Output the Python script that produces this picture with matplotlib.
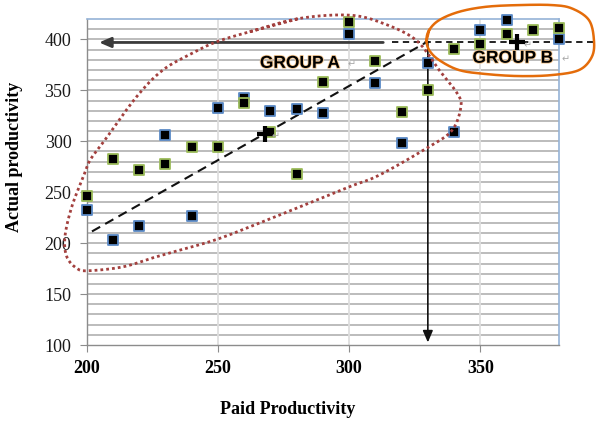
import numpy as np
import matplotlib
matplotlib.use("Agg")
import matplotlib.pyplot as plt
import matplotlib.patheffects as pe

# paid vs actual productivity, two sample series
paid_blue = [200, 210, 220, 230, 240, 250, 260, 270, 280, 290, 300, 310, 320, 330, 340, 350, 360, 380]
actual_blue = [233, 203, 217, 306, 227, 333, 342, 330, 332, 328, 405, 357, 298, 377, 309, 409, 419, 400]
paid_green = [200, 210, 220, 230, 240, 250, 260, 270, 280, 290, 300, 310, 320, 330, 340, 350, 360, 370, 380]
actual_green = [246, 283, 272, 278, 294, 294, 338, 309, 268, 358, 417, 379, 329, 350, 391, 395, 405, 409, 411]

# group centroids and trend
centroid_a = (268, 307.5)
centroid_b = (364, 397)
trend_x = [202, 330]
trend_y = [211.5, 398]

# hand-drawn outlines around the two groups
group_a_x = [262.1, 281.1, 300.1, 312.7, 325.5, 334.3, 341.2, 342.6, 339.3, 330.5, 311.5, 300.1,
             273.5, 250.7, 235.5, 226.6, 213.9, 200.6, 196.2, 192.4, 191.7, 194.3, 198.7, 201.3,
             207.0, 219.0, 229.0, 240.4, 249.4]
group_a_y = [407.5, 420.6, 423.8, 416.0, 399.3, 369.9, 347.0, 333.9, 311.0, 294.6, 266.8, 255.3,
             227.6, 204.7, 193.2, 186.7, 176.8, 172.9, 175.3, 186.7, 206.3, 235.7, 265.2, 281.6,
             301.5, 343.7, 369.9, 386.6, 397.6]
group_b_x = [329.5, 330.5, 334.3, 341.9, 352.1, 364.8, 377.3, 384.9, 391.4, 393.3, 392.5, 387.6,
             377.3, 364.8, 352.1, 341.9, 334.3, 330.5]
group_b_y = [399.3, 409.1, 418.9, 427.1, 432.0, 433.7, 433.7, 430.4, 418.9, 399.3, 382.9, 369.9,
             365.0, 364.0, 366.0, 369.9, 379.7, 389.5]


def closed_spline(xs, ys, n=20):
    # periodic Catmull-Rom through the outline points
    p = np.column_stack([xs, ys])
    m = len(p)
    out = []
    for i in range(m):
        p0, p1, p2, p3 = p[i - 1], p[i], p[(i + 1) % m], p[(i + 2) % m]
        t = np.linspace(0, 1, n, endpoint=False)[:, None]
        seg = 0.5 * ((2 * p1) + (-p0 + p2) * t + (2 * p0 - 5 * p1 + 4 * p2 - p3) * t ** 2
                     + (-p0 + 3 * p1 - 3 * p2 + p3) * t ** 3)
        out.append(seg)
    out = np.vstack(out + [p[1:2]])
    return out[:, 0], out[:, 1]


fig = plt.figure(figsize=(5.96, 4.21), dpi=100)
ax = fig.add_axes([0.1455, 0.1805, 0.7925, 0.7743])

ax.set_xlim(200, 380)
ax.set_ylim(100, 420)
ax.set_xticks([200, 250, 300, 350])
ax.set_yticks(range(100, 401, 50))
ax.set_yticks(range(100, 421, 10), minor=True)

for y in range(110, 420, 10):
    ax.axhline(y, color="#aaaaaa", lw=1.1, zorder=0)
for x in [250, 300, 350]:
    ax.axvline(x, color="#dedede", lw=1.3, zorder=0)

for side in ["top", "right"]:
    ax.spines[side].set_color("#95b3d7")
    ax.spines[side].set_linewidth(1.2)
for side in ["left", "bottom"]:
    ax.spines[side].set_color("#8c8c8c")
    ax.spines[side].set_linewidth(1.0)

ax.tick_params(axis="y", which="major", length=5, color="#8c8c8c", pad=6,
               labelsize=13, labelcolor="#1a1a1a")
ax.tick_params(axis="y", which="minor", length=0)
ax.tick_params(axis="x", length=5, color="#8c8c8c", pad=6, labelsize=13)
for lab in ax.get_yticklabels():
    lab.set_fontfamily("Liberation Serif")
for lab in ax.get_xticklabels():
    lab.set_fontfamily("Liberation Serif")
    lab.set_fontweight("bold")

ax.set_xlabel("Paid Productivity", fontfamily="Liberation Serif", fontweight="bold", fontsize=13)
ax.set_ylabel("Actual productivity", fontfamily="Liberation Serif", fontweight="bold", fontsize=13)
ax.xaxis.set_label_coords(0.426, -0.172)
ax.yaxis.set_label_coords(-0.135, 0.577)

# trend, arrows and guide lines
ax.plot(trend_x, trend_y, color="#111111", lw=1.5, dashes=(4.5, 2.8), zorder=3)
ax.plot([316.5, 394], [397, 397], color="#111111", lw=1.3, dashes=(3.5, 2.5), zorder=3, clip_on=False)
ax.annotate("", xy=(204.7, 397), xytext=(313, 397),
            arrowprops=dict(arrowstyle="-|>,head_length=0.7,head_width=0.3",
                            color="#3a3a3a", lw=2, shrinkA=0, shrinkB=0), zorder=3)
ax.annotate("", xy=(330, 102.5), xytext=(330, 398),
            arrowprops=dict(arrowstyle="-|>,head_length=0.7,head_width=0.3",
                            color="#111111", lw=1.2, shrinkA=0, shrinkB=0), zorder=3)

ax.scatter(paid_blue, actual_blue, marker="s", s=52, c="black", edgecolors="#5b8ac6",
           linewidths=1.3, zorder=4, clip_on=False)
ax.scatter(paid_green, actual_green, marker="s", s=52, c="black", edgecolors="#9bbb59",
           linewidths=1.3, zorder=4, clip_on=False)

ax.plot(*centroid_a, marker="+", ms=12, mew=3, color="black", zorder=5)
ax.plot(*centroid_b, marker="+", ms=12, mew=3, color="black", zorder=5)

ax_x, ax_y = closed_spline(group_a_x, group_a_y)
ax.plot(ax_x, ax_y, color="#a3403e", lw=2.0, dashes=(1, 1.1), clip_on=False, zorder=6)
bx_x, bx_y = closed_spline(group_b_x, group_b_y)
ax.plot(bx_x, bx_y, color="#e46c0a", lw=1.8, clip_on=False, zorder=6)

glow = [pe.withStroke(linewidth=1.2, foreground="#f6c890")]
ax.text(266, 376.5, "GROUP A", fontfamily="Liberation Sans", fontweight="bold", fontsize=12.5,
        va="center", ha="left", path_effects=glow, zorder=7)
ax.text(347, 381.5, "GROUP B", fontfamily="Liberation Sans", fontweight="bold", fontsize=12.5,
        va="center", ha="left", path_effects=glow, zorder=7)

mark = dict(fontfamily="DejaVu Sans", fontsize=7, color="#a8a8a8", va="center", ha="left", zorder=7)
ax.text(299.5, 376, "\u21b5", **mark)
ax.text(381, 380.5, "\u21b5", **mark, clip_on=False)
ax.text(270.5, 305, "\u21b5", **mark)
ax.text(366.5, 394.5, "\u21b5", **mark)

fig.savefig("out.png", dpi=100)
